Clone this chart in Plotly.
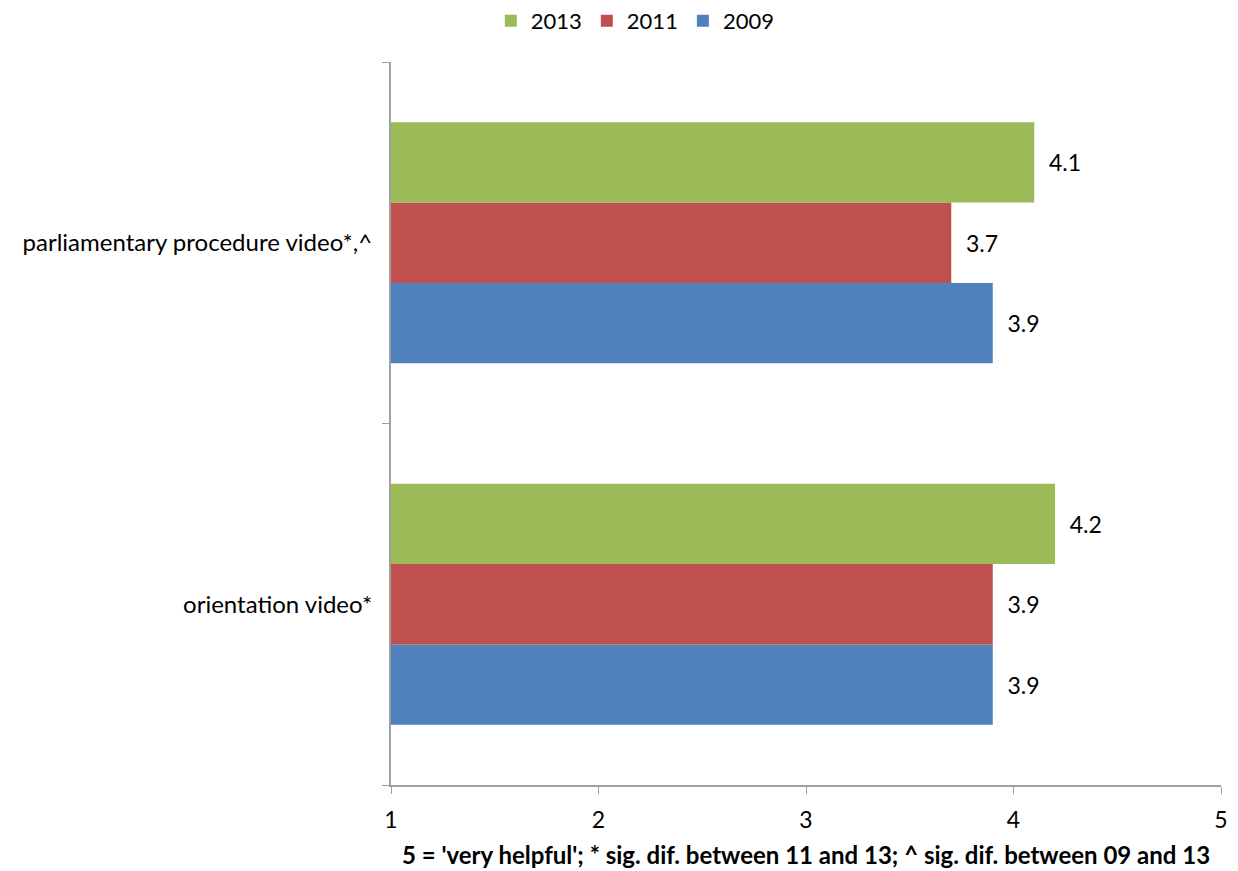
import plotly.graph_objects as go

categories = ["orientation video*", "parliamentary procedure video*,^"]
years = ["2009", "2011", "2013"]
values_2009 = [3.9, 3.9]
values_2011 = [3.9, 3.7]
values_2013 = [4.2, 4.1]
colors = {"2009": "#4F81BD", "2011": "#C0504D", "2013": "#9BBB59"}
x_ticks = [1, 2, 3, 4, 5]

series = {"2009": values_2009, "2011": values_2011, "2013": values_2013}

fig = go.Figure()
for y in years:
    fig.add_trace(go.Bar(
        y=categories, x=series[y], name=y, orientation="h",
        marker=dict(color=colors[y], line=dict(width=0)),
        texttemplate="\u00a0\u00a0%{x:.1f}", textposition="outside",
        textfont=dict(size=23, color="#000000"),
    ))

font = "Lato, Open Sans, sans-serif"
fig.update_layout(
    width=1230, height=863,
    margin=dict(l=383, r=17, t=54, b=86, autoexpand=False),
    paper_bgcolor="white", plot_bgcolor="white",
    barmode="group", bargap=0.333, bargroupgap=0,
    font=dict(family=font, size=23, color="#000000"),
    showlegend=True,
    legend=dict(orientation="h", traceorder="reversed", x=0.51, xref="container",
                xanchor="center", y=1 - 13 / 863, yref="container", yanchor="middle",
                font=dict(size=22), itemwidth=30),
    xaxis=dict(range=[1, 5], tickvals=x_ticks, ticks="outside", ticklen=7,
               tickcolor="#A0A0A0", showline=True, linecolor="#A0A0A0",
               linewidth=2, showgrid=False, zeroline=False, automargin=False,
               tickfont=dict(size=23), ticklabelstandoff=6,
               title=dict(text="<b>5 = 'very helpful'; * sig. dif. between 11 and 13; ^ sig. dif. between 09 and 13</b>",
                          font=dict(size=24), standoff=16)),
    yaxis=dict(type="category", tickson="boundaries", ticks="outside", ticklen=7,
               tickcolor="#A0A0A0", showline=True, linecolor="#A0A0A0",
               linewidth=2, showgrid=False, zeroline=False, automargin=False,
               tickfont=dict(size=24), ticklabelstandoff=12),
)
fig.write_html("out.html")
